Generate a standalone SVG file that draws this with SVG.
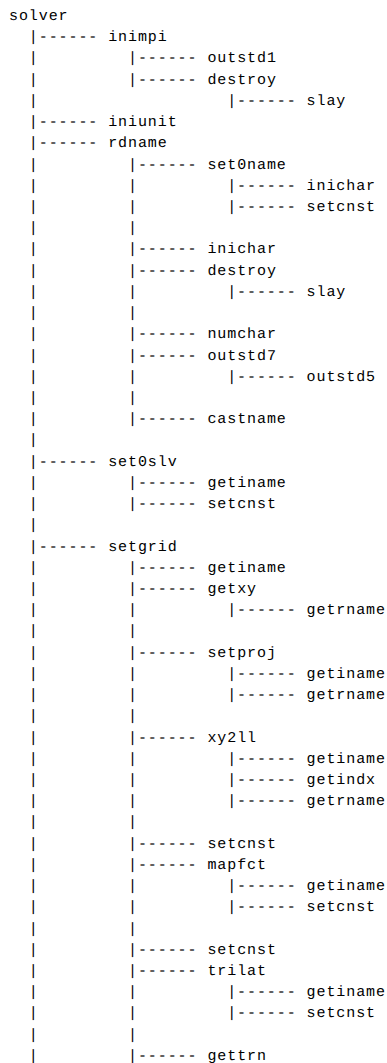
<svg xmlns="http://www.w3.org/2000/svg" width="387" height="1063" viewBox="0 0 387 1063">
  <style>
    text { font-family: "Liberation Mono", "DejaVu Sans Mono", monospace; font-size: 15px; letter-spacing: 0.92px; fill: #000; text-rendering: geometricPrecision; }
  </style>
  <rect width="387" height="1063" fill="#fff"/>
  <!-- call-tree branches; columns are 9.92px wide from x=9, rows 21.22px apart -->
  <g id="connectors">
    <!-- level 1 trunk (column 2) -->
    <text x="28.8" y="41.2">|------</text>
    <text x="28.8" y="62.4">|</text>
    <text x="28.8" y="83.7">|</text>
    <text x="28.8" y="104.9">|</text>
    <text x="28.8" y="126.1">|------</text>
    <text x="28.8" y="147.3">|------</text>
    <text x="28.8" y="168.5">|</text>
    <text x="28.8" y="189.8">|</text>
    <text x="28.8" y="211">|</text>
    <text x="28.8" y="232.2">|</text>
    <text x="28.8" y="253.4">|</text>
    <text x="28.8" y="274.6">|</text>
    <text x="28.8" y="295.9">|</text>
    <text x="28.8" y="317.1">|</text>
    <text x="28.8" y="338.3">|</text>
    <text x="28.8" y="359.5">|</text>
    <text x="28.8" y="380.7">|</text>
    <text x="28.8" y="402">|</text>
    <text x="28.8" y="423.2">|</text>
    <text x="28.8" y="444.4">|</text>
    <text x="28.8" y="465.6">|------</text>
    <text x="28.8" y="486.8">|</text>
    <text x="28.8" y="508.1">|</text>
    <text x="28.8" y="529.3">|</text>
    <text x="28.8" y="550.5">|------</text>
    <text x="28.8" y="571.7">|</text>
    <text x="28.8" y="592.9">|</text>
    <text x="28.8" y="614.2">|</text>
    <text x="28.8" y="635.4">|</text>
    <text x="28.8" y="656.6">|</text>
    <text x="28.8" y="677.8">|</text>
    <text x="28.8" y="699">|</text>
    <text x="28.8" y="720.3">|</text>
    <text x="28.8" y="741.5">|</text>
    <text x="28.8" y="762.7">|</text>
    <text x="28.8" y="783.9">|</text>
    <text x="28.8" y="805.1">|</text>
    <text x="28.8" y="826.4">|</text>
    <text x="28.8" y="847.6">|</text>
    <text x="28.8" y="868.8">|</text>
    <text x="28.8" y="890">|</text>
    <text x="28.8" y="911.2">|</text>
    <text x="28.8" y="932.5">|</text>
    <text x="28.8" y="953.7">|</text>
    <text x="28.8" y="974.9">|</text>
    <text x="28.8" y="996.1">|</text>
    <text x="28.8" y="1017.3">|</text>
    <text x="28.8" y="1038.6">|</text>
    <text x="28.8" y="1059.8">|</text>
    <!-- level 2 branches (column 12) -->
    <text x="128" y="62.4">|------</text>
    <text x="128" y="83.7">|------</text>
    <text x="128" y="168.5">|------</text>
    <text x="128" y="189.8">|</text>
    <text x="128" y="211">|</text>
    <text x="128" y="232.2">|</text>
    <text x="128" y="253.4">|------</text>
    <text x="128" y="274.6">|------</text>
    <text x="128" y="295.9">|</text>
    <text x="128" y="317.1">|</text>
    <text x="128" y="338.3">|------</text>
    <text x="128" y="359.5">|------</text>
    <text x="128" y="380.7">|</text>
    <text x="128" y="402">|</text>
    <text x="128" y="423.2">|------</text>
    <text x="128" y="486.8">|------</text>
    <text x="128" y="508.1">|------</text>
    <text x="128" y="571.7">|------</text>
    <text x="128" y="592.9">|------</text>
    <text x="128" y="614.2">|</text>
    <text x="128" y="635.4">|</text>
    <text x="128" y="656.6">|------</text>
    <text x="128" y="677.8">|</text>
    <text x="128" y="699">|</text>
    <text x="128" y="720.3">|</text>
    <text x="128" y="741.5">|------</text>
    <text x="128" y="762.7">|</text>
    <text x="128" y="783.9">|</text>
    <text x="128" y="805.1">|</text>
    <text x="128" y="826.4">|</text>
    <text x="128" y="847.6">|------</text>
    <text x="128" y="868.8">|------</text>
    <text x="128" y="890">|</text>
    <text x="128" y="911.2">|</text>
    <text x="128" y="932.5">|</text>
    <text x="128" y="953.7">|------</text>
    <text x="128" y="974.9">|------</text>
    <text x="128" y="996.1">|</text>
    <text x="128" y="1017.3">|</text>
    <text x="128" y="1038.6">|</text>
    <text x="128" y="1059.8">|------</text>
    <!-- level 3 branches (column 22) -->
    <text x="227.2" y="104.9">|------</text>
    <text x="227.2" y="189.8">|------</text>
    <text x="227.2" y="211">|------</text>
    <text x="227.2" y="295.9">|------</text>
    <text x="227.2" y="380.7">|------</text>
    <text x="227.2" y="614.2">|------</text>
    <text x="227.2" y="677.8">|------</text>
    <text x="227.2" y="699">|------</text>
    <text x="227.2" y="762.7">|------</text>
    <text x="227.2" y="783.9">|------</text>
    <text x="227.2" y="805.1">|------</text>
    <text x="227.2" y="890">|------</text>
    <text x="227.2" y="911.2">|------</text>
    <text x="227.2" y="996.1">|------</text>
    <text x="227.2" y="1017.3">|------</text>
  </g>
  <!-- routines; level 0 at x=9, level 1 at 108.2, level 2 at 207.4, level 3 at 306.6 -->
  <g id="solver"><text x="9" y="20">solver</text></g>
  <g id="inimpi"><text x="108.2" y="41.2">inimpi</text></g>
  <g id="inimpi-outstd1"><text x="207.4" y="62.4">outstd1</text></g>
  <g id="inimpi-destroy"><text x="207.4" y="83.7">destroy</text></g>
  <g id="inimpi-destroy-slay"><text x="306.6" y="104.9">slay</text></g>
  <g id="iniunit"><text x="108.2" y="126.1">iniunit</text></g>
  <g id="rdname"><text x="108.2" y="147.3">rdname</text></g>
  <g id="rdname-set0name"><text x="207.4" y="168.5">set0name</text></g>
  <g id="rdname-set0name-inichar"><text x="306.6" y="189.8">inichar</text></g>
  <g id="rdname-set0name-setcnst"><text x="306.6" y="211">setcnst</text></g>
  <g id="rdname-inichar"><text x="207.4" y="253.4">inichar</text></g>
  <g id="rdname-destroy"><text x="207.4" y="274.6">destroy</text></g>
  <g id="rdname-destroy-slay"><text x="306.6" y="295.9">slay</text></g>
  <g id="rdname-numchar"><text x="207.4" y="338.3">numchar</text></g>
  <g id="rdname-outstd7"><text x="207.4" y="359.5">outstd7</text></g>
  <g id="rdname-outstd7-outstd5"><text x="306.6" y="380.7">outstd5</text></g>
  <g id="rdname-castname"><text x="207.4" y="423.2">castname</text></g>
  <g id="set0slv"><text x="108.2" y="465.6">set0slv</text></g>
  <g id="set0slv-getiname"><text x="207.4" y="486.8">getiname</text></g>
  <g id="set0slv-setcnst"><text x="207.4" y="508.1">setcnst</text></g>
  <g id="setgrid"><text x="108.2" y="550.5">setgrid</text></g>
  <g id="setgrid-getiname"><text x="207.4" y="571.7">getiname</text></g>
  <g id="setgrid-getxy"><text x="207.4" y="592.9">getxy</text></g>
  <g id="setgrid-getxy-getrname"><text x="306.6" y="614.2">getrname</text></g>
  <g id="setgrid-setproj"><text x="207.4" y="656.6">setproj</text></g>
  <g id="setgrid-setproj-getiname"><text x="306.6" y="677.8">getiname</text></g>
  <g id="setgrid-setproj-getrname"><text x="306.6" y="699">getrname</text></g>
  <g id="setgrid-xy2ll"><text x="207.4" y="741.5">xy2ll</text></g>
  <g id="setgrid-xy2ll-getiname"><text x="306.6" y="762.7">getiname</text></g>
  <g id="setgrid-xy2ll-getindx"><text x="306.6" y="783.9">getindx</text></g>
  <g id="setgrid-xy2ll-getrname"><text x="306.6" y="805.1">getrname</text></g>
  <g id="setgrid-setcnst-1"><text x="207.4" y="847.6">setcnst</text></g>
  <g id="setgrid-mapfct"><text x="207.4" y="868.8">mapfct</text></g>
  <g id="setgrid-mapfct-getiname"><text x="306.6" y="890">getiname</text></g>
  <g id="setgrid-mapfct-setcnst"><text x="306.6" y="911.2">setcnst</text></g>
  <g id="setgrid-setcnst-2"><text x="207.4" y="953.7">setcnst</text></g>
  <g id="setgrid-trilat"><text x="207.4" y="974.9">trilat</text></g>
  <g id="setgrid-trilat-getiname"><text x="306.6" y="996.1">getiname</text></g>
  <g id="setgrid-trilat-setcnst"><text x="306.6" y="1017.3">setcnst</text></g>
  <g id="setgrid-gettrn"><text x="207.4" y="1059.8">gettrn</text></g>
</svg>
